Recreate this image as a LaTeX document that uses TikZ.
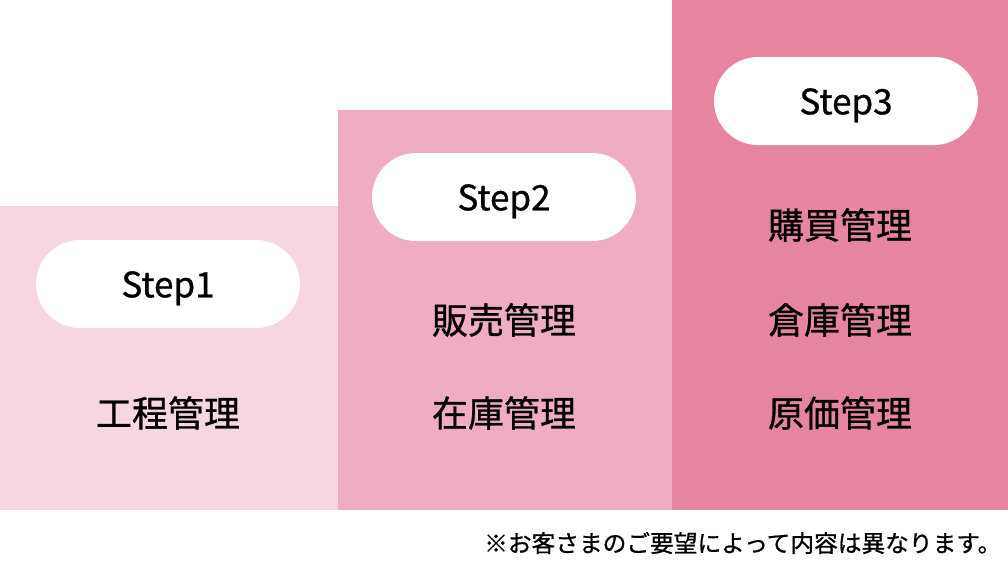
\documentclass[tikz,border=0pt]{standalone}
\usepackage{fontspec}
\setmainfont{Noto Sans CJK JP}[FakeBold=0.8,AutoFakeBold=0.8]
\definecolor{c1}{HTML}{F6D6DF}
\definecolor{c2}{HTML}{F0ADC1}
\definecolor{c3}{HTML}{E585A0}
\begin{document}
\begin{tikzpicture}[x=1pt,y=-1pt,
  col/.style={fill=#1, draw=none, inner sep=0pt, anchor=north west},
  pill/.style={fill=white, draw=none, minimum width=264pt, minimum height=88pt, rounded corners=44pt, inner sep=0pt, text height=30.8pt, text depth=4.2pt, font=\fontsize{35}{40}\selectfont\bfseries},
  item/.style={inner sep=0pt, text height=31.7pt, text depth=4.3pt, font=\fontsize{36}{42}\selectfont\bfseries},
  note/.style={inner sep=0pt, anchor=west, text height=20.9pt, text depth=2.8pt, font=\fontsize{23.7}{28}\selectfont}]
\useasboundingbox (0,0) rectangle (1008,560);
\node[col=c1, minimum width=338pt, minimum height=304pt] (col1) at (0,206) {};
\node[col=c2, minimum width=334pt, minimum height=400pt] (col2) at (338,110) {};
\node[col=c3, minimum width=336pt, minimum height=510pt] (col3) at (672,0) {};
\node[pill] (s1) at (168,284) {Step1};
\node[pill] (s2) at (504,197) {Step2};
\node[pill] (s3) at (846,101) {Step3};
\node[item] (a1) at (168,413) {工程管理};
\node[item] (b1) at (504,320) {販売管理};
\node[item] (b2) at (504,413) {在庫管理};
\node[item] (c1n) at (840,225) {購買管理};
\node[item] (c2n) at (840,320) {倉庫管理};
\node[item] (c3n) at (840,413) {原価管理};
\node[note] (nt) at (484,543) {※お客さまのご要望によって内容は異なります。};
\end{tikzpicture}
\end{document}
